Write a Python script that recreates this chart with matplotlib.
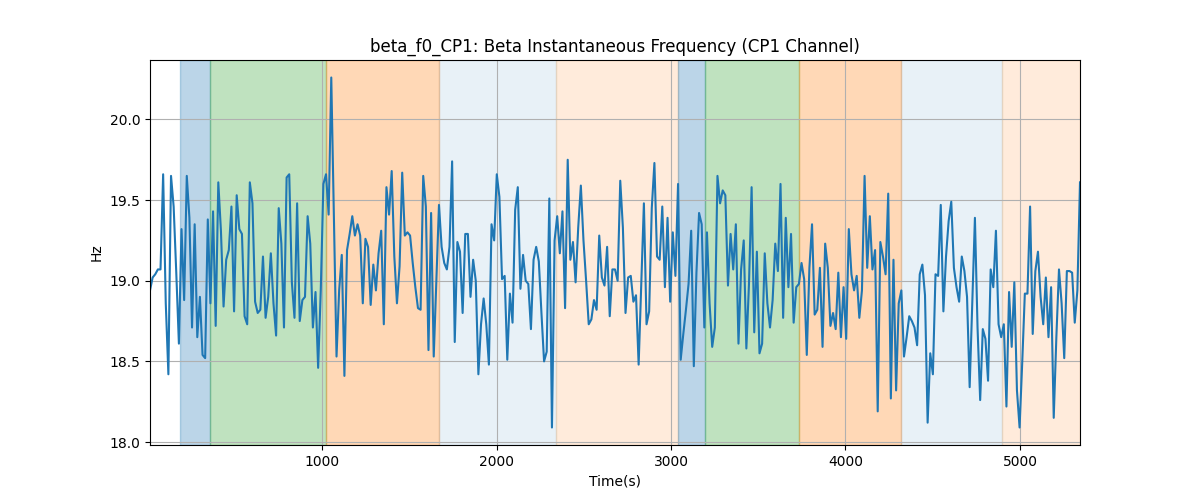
import numpy as np
import matplotlib
matplotlib.use("Agg")
import matplotlib.pyplot as plt

t_start, t_end = 14, 5344

freq = [
    # segment 1
    18.94, 19.02, 19.04, 19.07, 19.07, 19.66, 18.86, 18.42, 19.65, 19.46,
    19.05, 18.61, 19.32, 18.88, 19.65, 19.39, 18.71, 19.35, 18.65, 18.90,
    18.54, 18.52, 19.38, 18.86, 19.43, 18.72, 19.61, 19.31, 18.84, 19.13,
    19.19, 19.46, 18.81, 19.53, 19.32, 19.29, 18.78, 18.73, 19.61, 19.48,
    18.87, 18.80, 18.82, 19.15,
    # segment 2
    18.77, 18.90, 19.17, 18.86, 18.66, 19.45, 19.23, 18.71, 19.64, 19.66,
    18.99, 18.77, 19.48, 18.75, 18.88, 18.90, 19.40, 19.23, 18.71, 18.93,
    18.46, 18.94, 19.60, 19.66, 19.41, 20.26, 19.39, 18.53, 18.94, 19.16,
    18.41, 19.19, 19.29, 19.40, 19.28, 19.35, 19.28, 18.86, 19.26, 19.21,
    18.85, 19.10, 18.94, 19.17,
    # segment 3
    19.31, 18.73, 19.58, 19.41, 19.68, 19.15, 18.86, 19.09, 19.67, 19.28,
    19.30, 19.28, 19.11, 18.96, 18.83, 18.82, 19.65, 19.46, 18.57, 19.42,
    18.53, 19.00, 19.47, 19.21, 19.11, 19.07, 19.21, 19.74, 18.62, 19.24,
    19.18, 18.80, 19.29, 19.29, 18.90, 19.13, 19.00, 18.42, 18.73, 18.89,
    18.73, 18.48, 19.35, 19.25, 19.66,
    # segment 4
    19.52, 19.01, 19.03, 18.51, 18.92, 18.74, 19.44, 19.58, 18.95, 19.16,
    19.00, 18.98, 18.70, 19.13, 19.21, 19.12, 18.80, 18.50, 18.56, 19.51,
    18.09, 19.25, 19.40, 19.17, 19.43, 18.83, 19.75, 19.13, 19.24, 18.99,
    19.33, 19.59, 19.25, 19.00, 18.73, 18.76, 18.88, 18.82, 19.28, 19.02,
    18.97, 19.21, 18.78, 19.07,
    # segment 5
    19.07, 19.00, 19.62, 19.33, 18.80, 19.02, 19.03, 18.87, 18.91, 18.48,
    18.98, 19.48, 18.73, 18.81, 19.45, 19.73, 19.15, 19.13, 19.46, 18.96,
    19.39, 18.87, 19.30, 19.03, 19.60, 18.51, 18.67, 18.82, 18.98, 19.31,
    18.47, 19.05, 19.42, 19.35, 18.71, 19.30, 18.86, 18.59, 18.71, 19.65,
    19.48, 19.56, 19.53, 18.97,
    # segment 6
    19.29, 19.07, 19.35, 18.61, 19.07, 19.25, 18.58, 18.98, 19.58, 18.68,
    19.18, 18.55, 18.61, 19.17, 18.86, 18.71, 18.88, 19.23, 19.06, 19.60,
    18.77, 19.39, 18.96, 19.29, 18.74, 18.96, 18.98, 19.11, 19.01, 18.54,
    19.08, 19.35, 18.79, 18.82, 19.08, 18.59, 19.23, 19.08, 18.72, 18.80,
    18.70, 19.05, 18.65, 18.96,
    # segment 7
    18.64, 19.32, 19.04, 18.94, 19.03, 18.77, 18.94, 19.65, 19.08, 19.40,
    19.07, 19.19, 18.19, 19.24, 19.15, 19.04, 19.54, 18.27, 19.13, 18.32,
    18.86, 18.94, 18.53, 18.65, 18.78, 18.75, 18.71, 18.60, 19.04, 19.10,
    18.91, 18.12, 18.55, 18.42, 19.04, 19.03, 19.47, 18.81, 19.15, 19.37,
    19.49, 19.08, 18.96, 18.87, 19.15,
    # segment 8
    19.06, 18.90, 18.34, 18.86, 19.39, 18.71, 18.26, 18.70, 18.64, 18.38,
    19.07, 18.96, 19.31, 18.73, 18.65, 18.73, 18.22, 18.93, 18.59, 18.99,
    18.32, 18.09, 18.49, 18.92, 18.92, 19.46, 18.67, 19.06, 19.18, 18.90,
    18.73, 19.02, 18.65, 18.96, 18.15, 18.65, 19.07, 18.86, 18.52, 19.06,
    19.06, 19.05, 18.74, 18.94, 19.61,
]

# shaded periods: (start, end, colour, alpha)
span_starts = [186, 360, 1020, 1668, 2343, 3042, 3193, 3735, 4316, 4897]
span_ends = [360, 1020, 1668, 2343, 3042, 3193, 3735, 4316, 4897, 5344]
span_colors = ["tab:blue", "tab:green", "tab:orange", "tab:blue", "tab:orange",
               "tab:blue", "tab:green", "tab:orange", "tab:blue", "tab:orange"]
span_alphas = [0.3, 0.3, 0.3, 0.1, 0.15, 0.3, 0.3, 0.3, 0.1, 0.15]

t = np.linspace(t_start, t_end, len(freq))

fig, ax = plt.subplots(figsize=(12, 5), dpi=100)
for s, e, c, a in zip(span_starts, span_ends, span_colors, span_alphas):
    ax.axvspan(s, e, color=c, alpha=a)
ax.plot(t, freq, color="tab:blue", linewidth=1.5)
ax.set_xlim(t[0], t[-1])
ax.grid(True)
ax.set_title("beta_f0_CP1: Beta Instantaneous Frequency (CP1 Channel)")
ax.set_xlabel("Time(s)")
ax.set_ylabel("Hz")
fig.savefig("out.png")
